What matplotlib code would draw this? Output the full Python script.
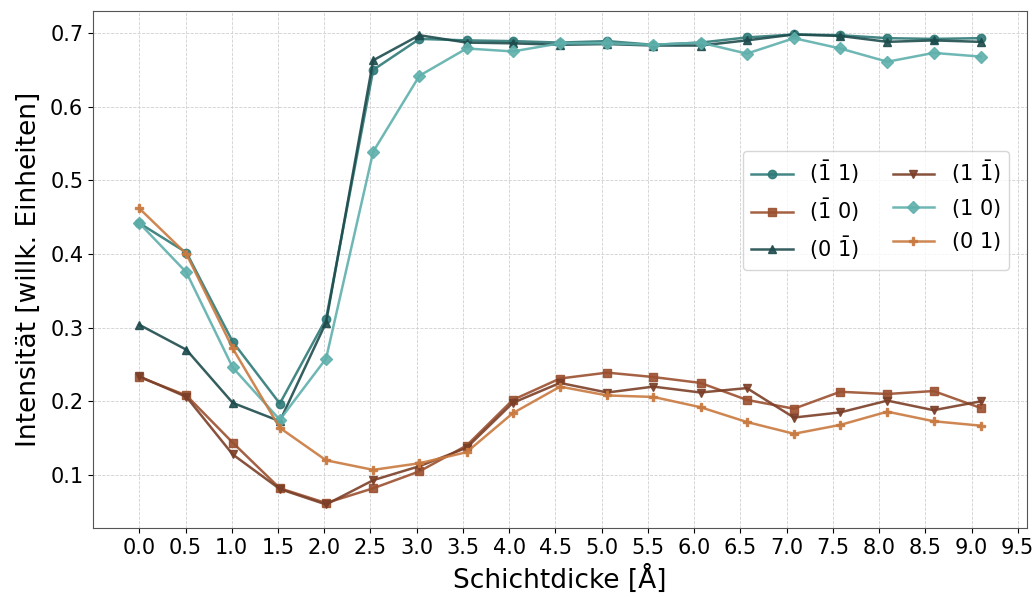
import numpy as np
import matplotlib
matplotlib.use("Agg")
import matplotlib.pyplot as plt

# Schichtdicke in Angstrom
schichtdicke = [0.0, 0.51, 1.01, 1.52, 2.02, 2.53, 3.03, 3.54, 4.04, 4.55,
                5.06, 5.56, 6.07, 6.57, 7.08, 7.58, 8.09, 8.59, 9.1]

# Intensitaeten der Reflexe
i_m1_1 = [0.442, 0.402, 0.281, 0.197, 0.312, 0.650, 0.692, 0.690, 0.689, 0.687,
          0.689, 0.684, 0.687, 0.694, 0.698, 0.697, 0.693, 0.692, 0.693]
i_m1_0 = [0.233, 0.208, 0.144, 0.082, 0.062, 0.082, 0.105, 0.140, 0.202, 0.231,
          0.239, 0.233, 0.225, 0.202, 0.190, 0.213, 0.210, 0.214, 0.191]
i_0_m1 = [0.304, 0.270, 0.198, 0.173, 0.307, 0.663, 0.697, 0.687, 0.686, 0.684,
          0.685, 0.683, 0.683, 0.690, 0.698, 0.696, 0.688, 0.690, 0.688]
i_1_m1 = [0.234, 0.206, 0.128, 0.081, 0.060, 0.093, 0.112, 0.137, 0.198, 0.225,
          0.212, 0.220, 0.212, 0.218, 0.178, 0.185, 0.201, 0.188, 0.200]
i_1_0 = [0.442, 0.375, 0.246, 0.175, 0.258, 0.539, 0.642, 0.679, 0.675, 0.686,
         0.686, 0.684, 0.687, 0.672, 0.693, 0.679, 0.661, 0.673, 0.668]
i_0_1 = [0.462, 0.400, 0.272, 0.164, 0.120, 0.107, 0.116, 0.131, 0.184, 0.220,
         0.208, 0.206, 0.192, 0.172, 0.156, 0.168, 0.186, 0.173, 0.167]

labels = [r"$(\bar{1}\ 1)$", r"$(\bar{1}\ 0)$", r"$(0\ \bar{1})$",
          r"$(1\ \bar{1})$", r"$(1\ 0)$", r"$(0\ 1)$"]
farben = ["#2f7a78", "#9b5030", "#1f4c4d", "#7b3f28", "#5fb0ac", "#c97a40"]
marker = ["o", "s", "^", "v", "D", "P"]
werte = [i_m1_1, i_m1_0, i_0_m1, i_1_m1, i_1_0, i_0_1]

plt.rcParams['mathtext.fontset'] = 'dejavusans'

fig = plt.figure(figsize=(10.36, 5.97), dpi=100)
ax = fig.add_axes([0.0898, 0.1156, 0.9015, 0.866])

for y, lab, c, m in zip(werte, labels, farben, marker):
    ax.plot(schichtdicke, y, marker=m, color=c, label=lab, linewidth=1.8,
            markersize=6, alpha=0.9)

ax.set_xticks(np.arange(0, 9.51, 0.5))
ax.set_xlim(-0.5, 9.6)
ax.tick_params(labelsize=15)
ax.grid(True, linestyle="--", linewidth=0.6, color="#d0d0d0")
for s in ax.spines.values():
    s.set_color("#555555")

ax.set_xlabel("Schichtdicke [Å]", fontsize=19, labelpad=5)
ax.set_ylabel("Intensität [willk. Einheiten]", fontsize=19, labelpad=6)
ax.legend(ncol=2, fontsize=15, loc="upper right", bbox_to_anchor=(0.992, 0.75),
          labelspacing=0.5, columnspacing=1.6)

plt.savefig("out.png", dpi=100)
